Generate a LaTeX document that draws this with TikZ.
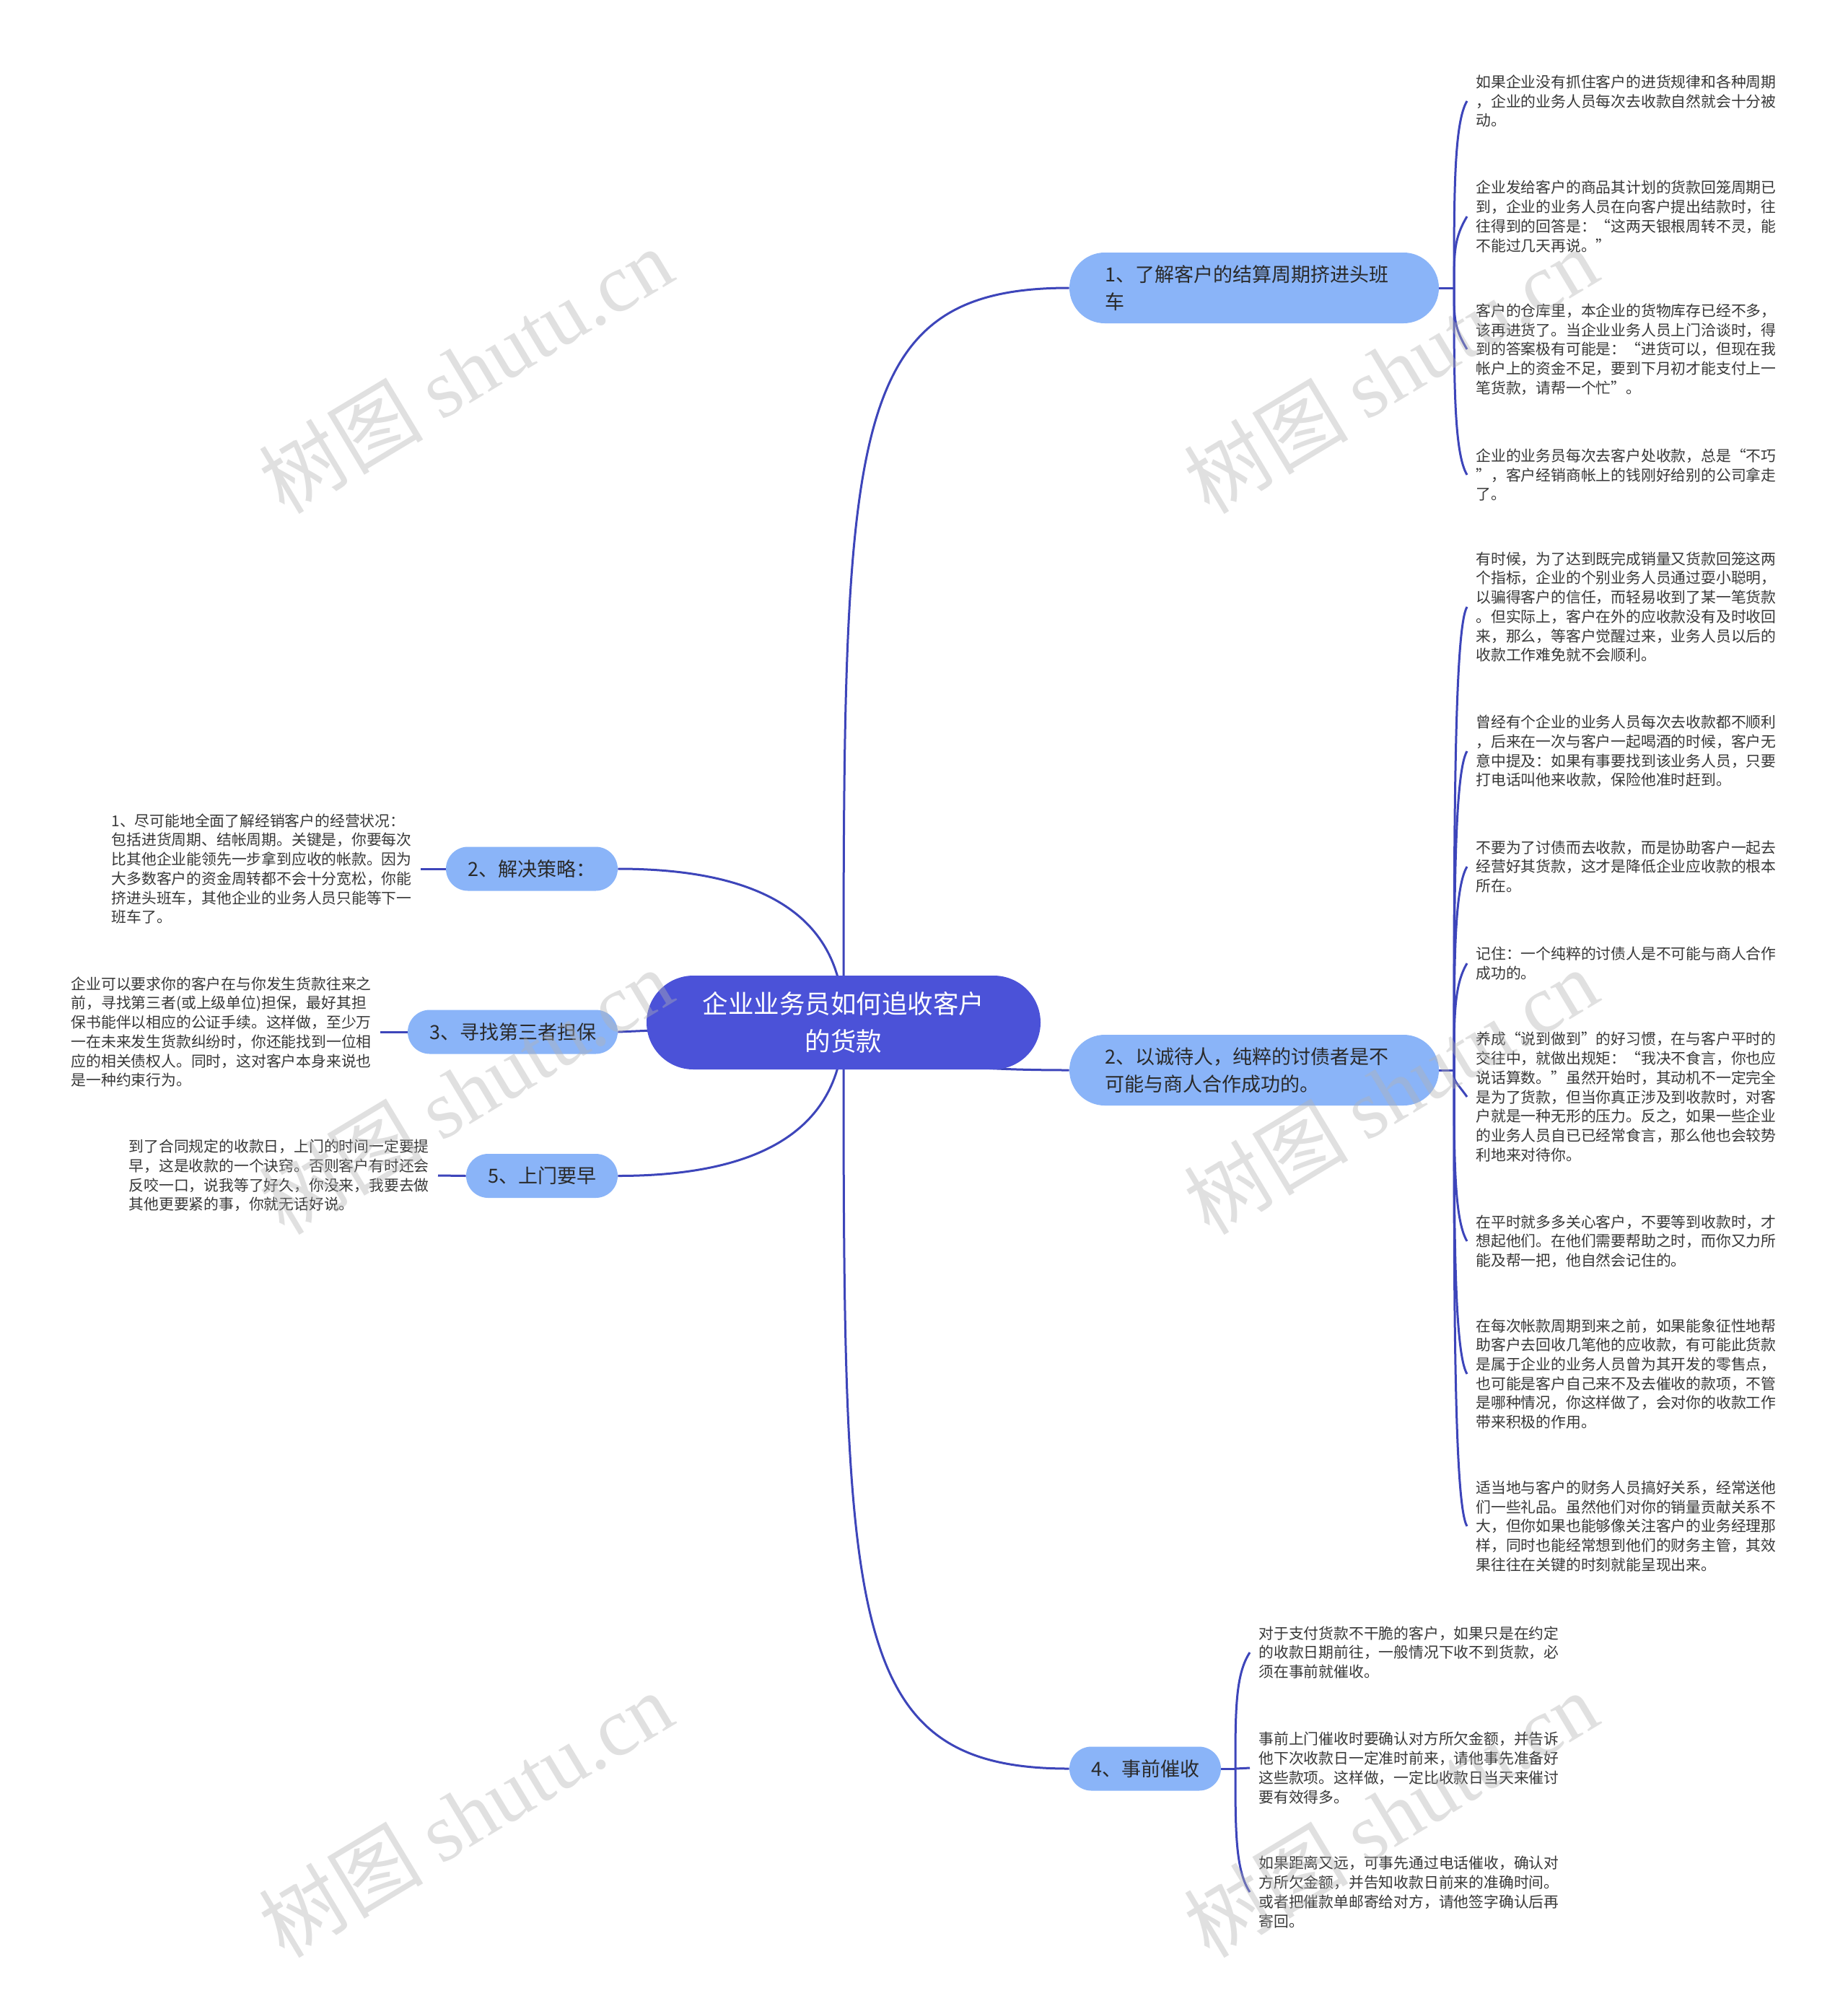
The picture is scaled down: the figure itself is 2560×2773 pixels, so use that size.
\documentclass[tikz,border=0pt]{standalone}
\usepackage{fontspec}
\setmainfont{Noto Sans CJK SC}
\newfontfamily\wmserif{Liberation Serif}
\definecolor{rootc}{HTML}{4B52D8}
\definecolor{bfill}{HTML}{8AB4F8}
\definecolor{linec}{HTML}{3D45BA}
\definecolor{btxt}{HTML}{2A2A2A}
\definecolor{ltxt}{HTML}{383838}
\pgfdeclarelayer{bg}
\pgfsetlayers{bg,main}
\begin{document}
\begin{tikzpicture}[x=0.5pt,y=-0.5pt,
 conn/.style={draw=linec,line width=1.5pt},
 leafr/.style={anchor=west,align=left,inner xsep=6pt,inner ysep=0pt,text=ltxt,font=\fontsize{10.4pt}{13.35pt}\selectfont},
 leafl/.style={anchor=east,align=left,inner xsep=6pt,inner ysep=0pt,text=ltxt,font=\fontsize{10.4pt}{13.35pt}\selectfont},
 rootnode/.style={fill=rootc,text=white,minimum width=273pt,minimum height=65pt,rounded corners=32.5pt,align=center,inner sep=0pt,font=\fontsize{17.75pt}{26pt}\selectfont},
 bigbranch/.style={fill=bfill,text=btxt,text width=207pt,inner xsep=24.5pt,inner ysep=0pt,minimum height=49pt,rounded corners=24.5pt,align=left,font=\fontsize{13.5pt}{19pt}\selectfont},
 smallbranch/.style={fill=bfill,text=btxt,minimum height=30.5pt,rounded corners=15.25pt,inner sep=0pt,align=center,font=\fontsize{13.5pt}{19pt}\selectfont},
 wm/.style={rotate=31,text=gray!60,text opacity=0.4,font=\fontsize{57pt}{57pt}\selectfont,inner sep=0pt}
]
\useasboundingbox (0,0) rectangle (2560,2773);
\begin{pgfonlayer}{bg}
\fill[white] (0,0) rectangle (2560,2773);
\end{pgfonlayer}

% root and branches
\node[rootnode] (root) at (1169,1417) {企业业务员如何追收客户\\的货款};
\node[bigbranch] (n1) at (1738,399) {1、了解客户的结算周期挤进头班\\车};
\node[bigbranch] (n2) at (1738,1483) {2、以诚待人，纯粹的讨债者是不\\可能与商人合作成功的。};
\node[smallbranch,minimum width=105pt] (n4) at (1587,2451) {4、事前催收};
\node[smallbranch,minimum width=119pt] (l2) at (737,1204) {2、解决策略：};
\node[smallbranch,minimum width=145.5pt] (l3) at (710.5,1430) {3、寻找第三者担保};
\node[smallbranch,minimum width=105pt] (l5) at (751,1629.5) {5、上门要早};

% leaves of n1
\node[leafr] (a1) at (2033,140) {如果企业没有抓住客户的进货规律和各种周期\\，企业的业务人员每次去收款自然就会十分被\\动。};
\node[leafr] (b1) at (2033,300) {企业发给客户的商品其计划的货款回笼周期已\\到，企业的业务人员在向客户提出结款时，往\\往得到的回答是：“这两天银根周转不灵，能\\不能过几天再说。”};
\node[leafr] (c1) at (2033,484) {客户的仓库里，本企业的货物库存已经不多，\\该再进货了。当企业业务人员上门洽谈时，得\\到的答案极有可能是：“进货可以，但现在我\\帐户上的资金不足，要到下月初才能支付上一\\笔货款，请帮一个忙”。};
\node[leafr] (d1) at (2033,658) {企业的业务员每次去客户处收款，总是“不巧\\”，客户经销商帐上的钱刚好给别的公司拿走\\了。};

% leaves of n2
\node[leafr] (a2) at (2033,841) {有时候，为了达到既完成销量又货款回笼这两\\个指标，企业的个别业务人员通过耍小聪明，\\以骗得客户的信任，而轻易收到了某一笔货款\\。但实际上，客户在外的应收款没有及时收回\\来，那么，等客户觉醒过来，业务人员以后的\\收款工作难免就不会顺利。};
\node[leafr] (b2) at (2033,1041) {曾经有个企业的业务人员每次去收款都不顺利\\，后来在一次与客户一起喝酒的时候，客户无\\意中提及：如果有事要找到该业务人员，只要\\打电话叫他来收款，保险他准时赶到。};
\node[leafr] (c2) at (2033,1201) {不要为了讨债而去收款，而是协助客户一起去\\经营好其货款，这才是降低企业应收款的根本\\所在。};
\node[leafr] (d2) at (2033,1335) {记住：一个纯粹的讨债人是不可能与商人合作\\成功的。};
\node[leafr] (e2) at (2033,1520) {养成“说到做到”的好习惯，在与客户平时的\\交往中，就做出规矩：“我决不食言，你也应\\说话算数。”虽然开始时，其动机不一定完全\\是为了货款，但当你真正涉及到收款时，对客\\户就是一种无形的压力。反之，如果一些企业\\的业务人员自已已经常食言，那么他也会较势\\利地来对待你。};
\node[leafr] (f2) at (2033,1720) {在平时就多多关心客户，不要等到收款时，才\\想起他们。在他们需要帮助之时，而你又力所\\能及帮一把，他自然会记住的。};
\node[leafr] (g2) at (2033,1904) {在每次帐款周期到来之前，如果能象征性地帮\\助客户去回收几笔他的应收款，有可能此货款\\是属于企业的业务人员曾为其开发的零售点，\\也可能是客户自己来不及去催收的款项，不管\\是哪种情况，你这样做了，会对你的收款工作\\带来积极的作用。};
\node[leafr] (h2) at (2033,2115) {适当地与客户的财务人员搞好关系，经常送他\\们一些礼品。虽然他们对你的销量贡献关系不\\大，但你如果也能够像关注客户的业务经理那\\样，同时也能经常想到他们的财务主管，其效\\果往往在关键的时刻就能呈现出来。};

% leaves of n4
\node[leafr] (a4) at (1732,2290) {对于支付货款不干脆的客户，如果只是在约定\\的收款日期前往，一般情况下收不到货款，必\\须在事前就催收。};
\node[leafr] (b4) at (1732,2450) {事前上门催收时要确认对方所欠金额，并告诉\\他下次收款日一定准时前来，请他事先准备好\\这些款项。这样做，一定比收款日当天来催讨\\要有效得多。};
\node[leafr] (c4) at (1732,2622) {如果距离又远，可事先通过电话催收，确认对\\方所欠金额，并告知收款日前来的准确时间。\\或者把催款单邮寄给对方，请他签字确认后再\\寄回。};

% left leaves
\node[leafl] (ll2) at (583,1204) {1、尽可能地全面了解经销客户的经营状况：\\包括进货周期、结帐周期。关键是，你要每次\\比其他企业能领先一步拿到应收的帐款。因为\\大多数客户的资金周转都不会十分宽松，你能\\挤进头班车，其他企业的业务人员只能等下一\\班车了。};
\node[leafl] (ll3) at (527,1430) {企业可以要求你的客户在与你发生货款往来之\\前，寻找第三者(或上级单位)担保，最好其担\\保书能伴以相应的公证手续。这样做，至少万\\一在未来发生货款纠纷时，你还能找到一位相\\应的相关债权人。同时，这对客户本身来说也\\是一种约束行为。};
\node[leafl] (ll5) at (607,1629) {到了合同规定的收款日，上门的时间一定要提\\早，这是收款的一个诀窍。否则客户有时还会\\反咬一口，说我等了好久，你没来，我要去做\\其他更要紧的事，你就无话好说。};

\coordinate (t1) at (2015,399);
\coordinate (t2) at (2015,1483);
\coordinate (t4) at (1712,2451);

\begin{pgfonlayer}{bg}
% root connectors
\draw[conn] (root.center) .. controls (1169,600) and (1169,399) .. (n1.west);
\draw[conn] (root.center) .. controls (1169,1461) and (1273,1483) .. (n2.west);
\draw[conn] (root.center) .. controls (1169,2247) and (1169,2451) .. (n4.west);
\draw[conn] (root.center) .. controls (1169,1275) and (1065,1204) .. (l2.east);
\draw[conn] (root.center) -- (l3.east);
\draw[conn] (root.center) .. controls (1169,1558) and (1065,1629.5) .. (l5.east);
% left leaves
\draw[conn] (l2.west) -- (ll2.east);
\draw[conn] (l3.west) -- (ll3.east);
\draw[conn] (l5.west) -- (ll5.east);
% n1 bracket
\draw[conn] (n1.east) -- (t1);
\draw[conn] (t1) .. controls (2015,270) and (2015,170) .. (a1.west);
\draw[conn] (t1) .. controls (2015,350) and (2015,330) .. (b1.west);
\draw[conn] (t1) .. controls (2015,441) and (2015,454) .. (c1.west);
\draw[conn] (t1) .. controls (2015,528) and (2015,628) .. (d1.west);
% n2 bracket
\draw[conn] (n2.east) -- (t2);
\draw[conn] (t2) .. controls (2015,1162) and (2015,871) .. (a2.west);
\draw[conn] (t2) .. controls (2015,1262) and (2015,1071) .. (b2.west);
\draw[conn] (t2) .. controls (2015,1342) and (2015,1231) .. (c2.west);
\draw[conn] (t2) .. controls (2015,1409) and (2015,1365) .. (d2.west);
\draw[conn] (t2) .. controls (2015,1501) and (2015,1495) .. (e2.west);
\draw[conn] (t2) .. controls (2015,1601) and (2015,1690) .. (f2.west);
\draw[conn] (t2) .. controls (2015,1693) and (2015,1874) .. (g2.west);
\draw[conn] (t2) .. controls (2015,1799) and (2015,2085) .. (h2.west);
% n4 bracket
\draw[conn] (n4.east) -- (t4);
\draw[conn] (t4) .. controls (1712,2372) and (1712,2320) .. (a4.west);
\draw[conn] (t4) -- (b4.west);
\draw[conn] (t4) .. controls (1712,2536) and (1712,2592) .. (c4.west);
\end{pgfonlayer}

% watermarks
\node[wm] (w1) at (645,513) {树图 {\wmserif shutu.cn}};
\node[wm] (w2) at (1927,513) {树图 {\wmserif shutu.cn}};
\node[wm] (w3) at (645,1512) {树图 {\wmserif shutu.cn}};
\node[wm] (w4) at (1927,1512) {树图 {\wmserif shutu.cn}};
\node[wm] (w5) at (645,2514) {树图 {\wmserif shutu.cn}};
\node[wm] (w6) at (1927,2514) {树图 {\wmserif shutu.cn}};
\end{tikzpicture}
\end{document}
